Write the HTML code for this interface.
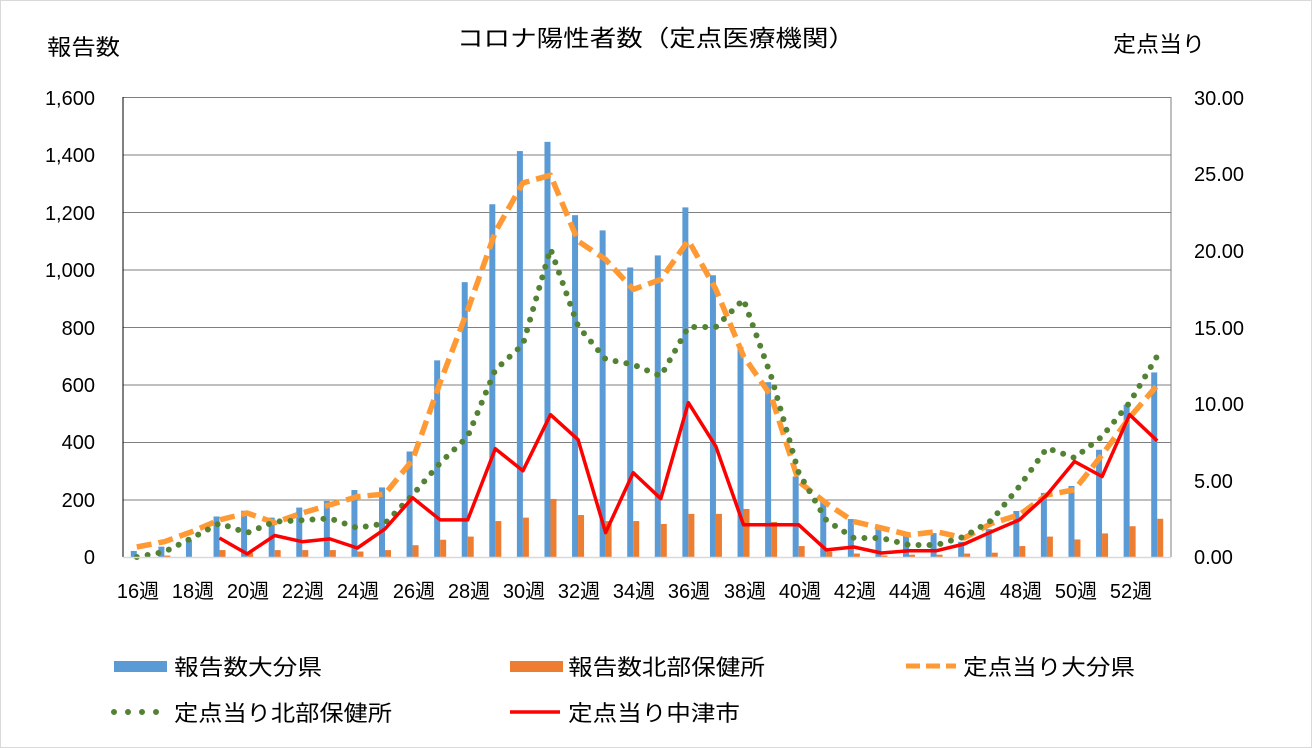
<!DOCTYPE html>
<html><head><meta charset="utf-8"><style>
body{margin:0;background:#fff;}
svg{display:block;font-family:"Liberation Sans","Noto Sans CJK JP",sans-serif;}
</style></head><body>
<svg id="s" width="1312" height="748" viewBox="0 0 1312 748" xmlns="http://www.w3.org/2000/svg">
<rect x="0.5" y="0.5" width="1311" height="747" fill="#fff" stroke="#d9d9d9"/>
<g id="grid" stroke="#7f7f7f" stroke-width="1"></g>
<g id="bars"></g>
<g id="lines" fill="none"></g>
<line x1="123" y1="97" x2="123" y2="557" stroke="#000" stroke-width="1"/>
<line x1="123" y1="557.5" x2="1171" y2="557.5" stroke="#d9d9d9" stroke-width="1.5"/>
<text x="457" y="46" font-size="23" textLength="398" lengthAdjust="spacingAndGlyphs" fill="#000">コロナ陽性者数（定点医療機関）</text>
<text x="47" y="55" font-size="22" textLength="73" lengthAdjust="spacingAndGlyphs" fill="#000">報告数</text>
<text x="1113" y="52" font-size="22" textLength="92" lengthAdjust="spacingAndGlyphs" fill="#000">定点当り</text>
<g font-size="20" text-anchor="end" fill="#000">
<text x="95" y="105">1,600</text><text x="95" y="162">1,400</text><text x="95" y="220">1,200</text>
<text x="95" y="277">1,000</text><text x="95" y="335">800</text><text x="95" y="392">600</text>
<text x="95" y="449">400</text><text x="95" y="507">200</text><text x="95" y="564">0</text>
</g>
<g font-size="20" fill="#000">
<text x="1194" y="105">30.00</text><text x="1194" y="181">25.00</text><text x="1194" y="258">20.00</text>
<text x="1194" y="335">15.00</text><text x="1194" y="411">10.00</text><text x="1194" y="488">5.00</text>
<text x="1194" y="564">0.00</text>
</g>
<g font-size="20" text-anchor="middle" fill="#000">
<text x="138" y="598">16週</text><text x="193" y="598">18週</text><text x="248" y="598">20週</text>
<text x="303" y="598">22週</text><text x="358" y="598">24週</text><text x="414" y="598">26週</text>
<text x="469" y="598">28週</text><text x="524" y="598">30週</text><text x="579" y="598">32週</text>
<text x="634" y="598">34週</text><text x="689" y="598">36週</text><text x="745" y="598">38週</text>
<text x="800" y="598">40週</text><text x="855" y="598">42週</text><text x="910" y="598">44週</text>
<text x="965" y="598">46週</text><text x="1021" y="598">48週</text><text x="1076" y="598">50週</text>
<text x="1131" y="598">52週</text>
</g>
<g font-size="22" fill="#000">
<rect x="114" y="661" width="53" height="11" fill="#5b9bd5"/>
<text x="174" y="675" textLength="148" lengthAdjust="spacingAndGlyphs">報告数大分県</text>
<rect x="510" y="661" width="53" height="11" fill="#ed7d31"/>
<text x="568" y="675" textLength="197" lengthAdjust="spacingAndGlyphs">報告数北部保健所</text>
<line x1="906" y1="666" x2="956" y2="666" stroke="#ff9933" stroke-width="5" stroke-dasharray="14,6"/>
<text x="963" y="675" textLength="172" lengthAdjust="spacingAndGlyphs">定点当り大分県</text>
<line x1="114" y1="712" x2="162" y2="712" stroke="#548235" stroke-width="6" stroke-dasharray="0,14" stroke-linecap="round"/>
<text x="174" y="721" textLength="218" lengthAdjust="spacingAndGlyphs">定点当り北部保健所</text>
<line x1="510" y1="712" x2="560" y2="712" stroke="#ff0000" stroke-width="3.5"/>
<text x="568" y="721" textLength="172" lengthAdjust="spacingAndGlyphs">定点当り中津市</text>
</g>
</svg>
<script>
(function(){
var NS="http://www.w3.org/2000/svg",L=123,W=1048,T=97,B=557,H=460,n=38,cw=W/n;
function el(t,a,p){var e=document.createElementNS(NS,t);for(var k in a)e.setAttribute(k,a[k]);p.appendChild(e);return e;}
var g=document.getElementById('grid');
for(var i=0;i<8;i++){var y=T+i*H/8;el('line',{x1:L,y1:y+0.5,x2:L+W,y2:y+0.5},g);}
el('line',{x1:L+W,y1:T,x2:L+W,y2:B},g);
var blue=[21,36,59,141,161,137,172,195,233,242,367,684,956,1227,1412,1444,1189,1136,1007,1049,1216,980,730,608,280,196,132,111,77,83,53,97,160,223,247,373,530,642];
var orng=[0,5,0,24,15,24,24,24,19,24,41,60,71,125,137,202,146,125,125,115,150,150,167,122,38,19,12,5,8,8,12,15,38,71,61,82,107,133];
var oda=[0.65,1.0,1.65,2.42,2.87,2.24,2.87,3.4,3.94,4.1,6.34,11.4,16.1,21.2,24.4,24.9,20.6,19.4,17.45,18.1,20.65,17.45,13.1,10.5,4.92,3.5,2.31,1.9,1.44,1.65,1.24,2.2,2.75,4.05,4.38,6.67,9.1,11.2];
var grn=[0,0.33,1.24,2.2,1.57,2.3,2.4,2.52,1.9,2.2,4.05,6.14,7.86,12.2,13.86,20.1,15.05,12.9,12.55,11.8,15.0,15.0,16.8,11.8,5.5,2.4,1.24,1.24,0.78,0.78,1.33,2.4,4.6,7.1,6.47,7.86,10.06,13.1];
var red=[null,null,null,1.24,0.2,1.4,1.0,1.18,0.59,1.83,3.86,2.42,2.42,7.06,5.62,9.28,7.65,1.59,5.5,3.8,10.06,7.2,2.1,2.1,2.1,0.46,0.65,0.26,0.41,0.41,0.85,1.65,2.42,4.05,6.23,5.25,9.28,7.58];
var bg=document.getElementById('bars');
for(var i=0;i<n;i++){var c=L+cw*(i+0.5);
var h=blue[i]/1600*H;el('rect',{x:c-6,y:B-h,width:6,height:h,fill:'#5b9bd5'},bg);
var h2=orng[i]/1600*H;if(h2>0)el('rect',{x:c,y:B-h2,width:6,height:h2,fill:'#ed7d31'},bg);}
function pts(a){var s=[];for(var i=0;i<n;i++){if(a[i]==null)continue;s.push((L+cw*(i+0.5)).toFixed(1)+','+(B-a[i]/30*H).toFixed(1));}return s.join(' ');}
var lg=document.getElementById('lines');
el('polyline',{points:pts(oda),stroke:'#ff9933','stroke-width':5.5,'stroke-dasharray':'15,7','stroke-linejoin':'round'},lg);
el('polyline',{points:pts(grn),stroke:'#548235','stroke-width':6,'stroke-dasharray':'0,11','stroke-linecap':'round','stroke-linejoin':'round'},lg);
el('polyline',{points:pts(red),stroke:'#ff0000','stroke-width':3.5,'stroke-linejoin':'round'},lg);
})();
</script>
</body></html>
